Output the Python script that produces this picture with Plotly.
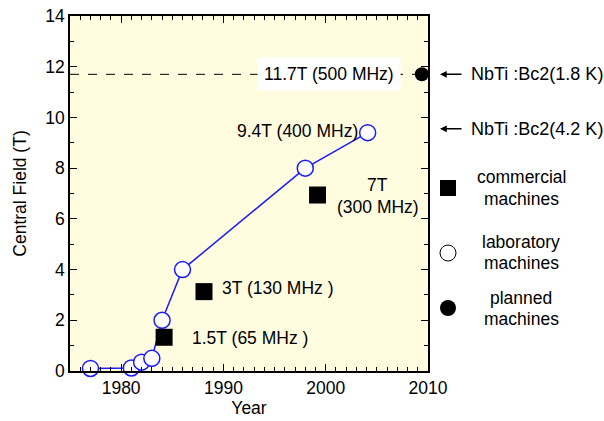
import plotly.graph_objects as go

lab_year = [1977, 1981, 1982, 1983, 1984, 1986, 1998, 2004.1]
lab_field = [0.1, 0.12, 0.35, 0.5, 2.0, 4.0, 8.0, 9.4]
com_year = [1984.2, 1988.1, 1999.2]
com_field = [1.33, 3.13, 6.94]
plan_year = [2009.4]
plan_field = [11.7]
dash_level = 11.7
nbti_levels = [11.7, 9.55]
nbti_labels = ["NbTi :Bc2(1.8 K)", "NbTi :Bc2(4.2 K)"]

FONT = "Liberation Sans, Arial, sans-serif"
L, R, T, B = 70, 428, 16, 371
W, H = R - L, B - T

def px(x):
    return (x - L) / W

def py(y):
    return (B - y) / H

fig = go.Figure()
fig.add_trace(go.Scatter(x=lab_year, y=lab_field, mode="lines+markers",
                         line=dict(color="#1a1aff", width=1.5),
                         marker=dict(symbol="circle", size=16, color="white",
                                     line=dict(color="#1a1aff", width=1.5)),
                         cliponaxis=False, showlegend=False))
fig.add_trace(go.Scatter(x=com_year, y=com_field, mode="markers",
                         marker=dict(symbol="square", size=17, color="black"),
                         cliponaxis=False, showlegend=False))
fig.add_trace(go.Scatter(x=plan_year, y=plan_field, mode="markers",
                         marker=dict(symbol="circle", size=14, color="black"),
                         cliponaxis=False, showlegend=False))

shapes = [
    dict(type="line", xref="x", yref="y", x0=1975, x1=plan_year[0], y0=dash_level, y1=dash_level,
         line=dict(color="black", width=1, dash="dash"), layer="below"),
    # legend symbols
    dict(type="rect", xref="paper", yref="paper", x0=px(440), x1=px(456), y0=py(196), y1=py(180),
         fillcolor="black", line=dict(width=0)),
    dict(type="circle", xref="paper", yref="paper", x0=px(440), x1=px(456), y0=py(261), y1=py(245),
         fillcolor="white", line=dict(color="black", width=1)),
    dict(type="circle", xref="paper", yref="paper", x0=px(440), x1=px(456), y0=py(316), y1=py(300),
         fillcolor="black", line=dict(width=0)),
]

ann = []
def text(x, y, s, size=17.5, xanchor="center", xref="paper", yref="paper", **kw):
    ann.append(dict(x=x, y=y, xref=xref, yref=yref, text=s, showarrow=False,
                    xanchor=xanchor, yanchor="middle",
                    font=dict(family=FONT, size=size, color="black"), **kw))

text(px(329), py(74), "11.7T (500 MHz)", bgcolor="white", borderpad=6)
text(px(297), py(131), "9.4T (400 MHz)")
text(px(377), py(185), "7T")
text(px(378), py(207), "(300 MHz)")
text(px(278), py(288), "3T (130 MHz )")
text(px(250), py(338), "1.5T (65 MHz )")

for lev, lab in zip(nbti_levels, nbti_labels):
    ypp = py(B - lev * H / 14)
    ann.append(dict(x=px(440), y=ypp, xref="paper", yref="paper", ax=23, ay=0,
                    axref="pixel", ayref="pixel", text="", showarrow=True,
                    arrowhead=2, arrowsize=0.9, arrowwidth=1.5, arrowcolor="black"))
    text(px(469), ypp, lab, size=18, xanchor="left")

text(px(521), py(177), "commercial")
text(px(521), py(199), "machines")
text(px(521), py(242), "laboratory")
text(px(521), py(263), "machines")
text(px(521), py(298), "planned")
text(px(521), py(319), "machines")

axis_common = dict(showline=True, linecolor="black", linewidth=1.5, mirror="allticks",
                   ticks="inside", ticklen=7, tickwidth=1, tickcolor="black",
                   showgrid=False, zeroline=False, automargin=False,
                   tickfont=dict(family=FONT, size=17.5, color="black"))

fig.update_layout(
    width=604, height=421,
    margin=dict(l=L, r=604 - R, t=T, b=421 - B, autoexpand=False),
    paper_bgcolor="white", plot_bgcolor="#FFFCE0",
    shapes=shapes, annotations=ann,
    xaxis=dict(range=[1975, 2010], tickvals=[1980, 1990, 2000, 2010],
               minor=dict(dtick=1, tick0=1975, ticks="inside", ticklen=4, tickcolor="black"),
               title=dict(text="Year", font=dict(family=FONT, size=17.5, color="black"), standoff=5),
               **axis_common),
    yaxis=dict(range=[0, 14], dtick=2, tick0=0,
               minor=dict(dtick=1, ticks="inside", ticklen=4, tickcolor="black"),
               title=dict(text="Central Field (T)", font=dict(family=FONT, size=17.5, color="black"), standoff=14),
               **axis_common),
)

fig.write_html("out.html")
